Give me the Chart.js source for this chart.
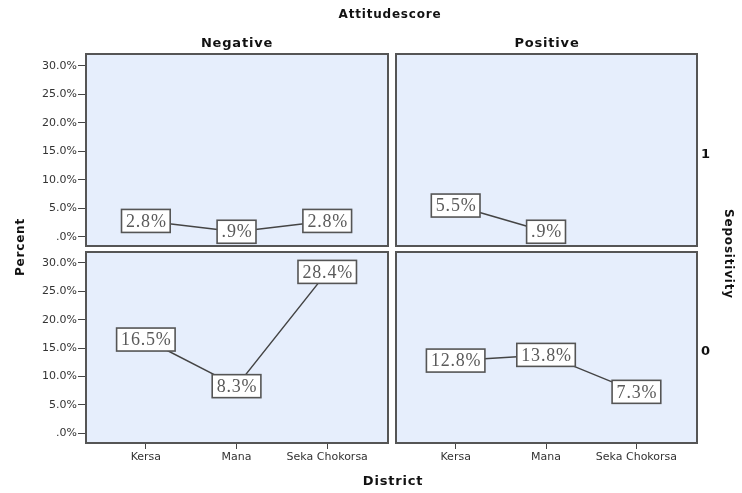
<!DOCTYPE html>
<html>
<head>
<meta charset="utf-8">
<script src="https://cdn.jsdelivr.net/npm/chart.js@4/dist/chart.umd.min.js"></script>
<style>
html,body{margin:0;padding:0;background:#fff;}
#wrap{position:relative;width:742px;height:493px;overflow:hidden;}
canvas{position:absolute;left:0;top:0;}
.t{position:absolute;font-family:"DejaVu Sans",sans-serif;font-weight:bold;font-size:13px;color:#111;white-space:nowrap;letter-spacing:0.8px;transform:translate(-50%,-50%);}
</style>
</head>
<body>
<div id="wrap">
<canvas id="c1" width="742" height="493"></canvas>
<canvas id="c2" width="742" height="493"></canvas>
<canvas id="c3" width="742" height="493"></canvas>
<canvas id="c4" width="742" height="493"></canvas>
<div class="t" style="left:390px;top:14px;font-size:12px;">Attitudescore</div>
<div class="t" style="left:237px;top:42px;">Negative</div>
<div class="t" style="left:547px;top:42px;">Positive</div>
<div class="t" style="left:20px;top:247px;transform:translate(-50%,-50%) rotate(-90deg);font-size:12px;">Percent</div>
<div class="t" style="left:729px;top:254px;transform:translate(-50%,-50%) rotate(90deg);font-size:12px;">Sepositivity</div>
<div class="t" style="left:706px;top:153px;">1</div>
<div class="t" style="left:706px;top:350px;">0</div>
<div class="t" style="left:393px;top:480px;">District</div>
</div>
<script>
// ---- data ----
const districts = ["Kersa", "Mana", "Seka Chokorsa"];
const yTicks = [0, 5, 10, 15, 20, 25, 30];
const negativeSepos1 = [2.8, 0.9, 2.8];
const positiveSepos1 = [5.5, 0.9, null];
const negativeSepos0 = [16.5, 8.3, 28.4];
const positiveSepos0 = [12.8, 13.8, 7.3];

const W = 742, H = 493;
function fmt(v){ let s = v.toFixed(1); if (s.startsWith("0")) s = s.slice(1); return s + "%"; }

const panelPlugin = {
  id: 'panel',
  beforeDraw(chart){
    const a = chart.chartArea, ctx = chart.ctx;
    ctx.save(); ctx.fillStyle = '#e6eefc';
    ctx.fillRect(a.left, a.top, a.right - a.left, a.bottom - a.top);
    ctx.restore();
  },
  afterDatasetsDraw(chart){
    const ctx = chart.ctx, ds = chart.data.datasets[0];
    const xs = chart.scales.x, ys = chart.scales.y;
    ctx.save();
    ctx.font = '18px "Liberation Serif", "Times New Roman", serif';
    try { ctx.letterSpacing = '0.8px'; } catch(e) {}
    ctx.textAlign = 'center'; ctx.textBaseline = 'middle';
    ds.data.forEach(p => {
      if (p.y == null) return;
      const px = xs.getPixelForValue(p.x), py = ys.getPixelForValue(p.y);
      const txt = fmt(p.y);
      const w = ctx.measureText(txt).width + 8, h = 23;
      ctx.fillStyle = '#fff';
      ctx.fillRect(px - w/2, py - h/2, w, h);
      ctx.strokeStyle = '#555'; ctx.lineWidth = 1.6;
      ctx.strokeRect(px - w/2, py - h/2, w, h);
      ctx.fillStyle = '#5a5a5a';
      ctx.fillText(txt, px + 0.5, py + 1);
    });
    const a = chart.chartArea;
    ctx.strokeStyle = '#555'; ctx.lineWidth = 2;
    ctx.strokeRect(a.left, a.top, a.right - a.left, a.bottom - a.top);
    ctx.restore();
  }
};

function makeChart(id, values, panel, showY, showX, yMin, yMax){
  const yW = 60, xH = 30;
  const padding = {
    left: panel.l - (showY ? yW : 0),
    right: W - panel.r,
    top: panel.t,
    bottom: H - panel.b - (showX ? xH : 0)
  };
  const data = values.map((v, i) => ({x: i, y: v}));
  return new Chart(document.getElementById(id), {
    type: 'line',
    data: { datasets: [{ data, borderColor: '#444', borderWidth: 1.5, pointRadius: 0, tension: 0, spanGaps: false }] },
    options: {
      responsive: false, animation: false,
      layout: { padding },
      plugins: { legend: {display: false}, tooltip: {enabled: false} },
      scales: {
        x: {
          type: 'linear', min: -0.66, max: 2.67, display: showX,
          afterBuildTicks: s => { s.ticks = districts.map((d, i) => ({value: i})); },
          afterFit: s => { s.height = showX ? xH : 0; },
          ticks: { callback: v => districts[v], color: '#333', padding: 2, maxRotation: 0, autoSkip: false,
                   font: {family: '"DejaVu Sans", sans-serif', size: 11} },
          grid: { drawOnChartArea: false, drawTicks: true, tickLength: 6, color: '#444' },
          border: { display: false }
        },
        y: {
          type: 'linear', min: yMin, max: yMax, display: showY,
          afterBuildTicks: s => { s.ticks = yTicks.map(v => ({value: v})); },
          afterFit: s => { s.width = showY ? yW : 0; },
          ticks: { callback: v => fmt(v), color: '#333', padding: 1,
                   font: {family: '"DejaVu Sans", sans-serif', size: 11} },
          grid: { drawOnChartArea: false, drawTicks: true, tickLength: 8, color: '#444' },
          border: { display: false }
        }
      }
    },
    plugins: [panelPlugin]
  });
}

makeChart('c1', negativeSepos1, {l: 86, t: 54, r: 388, b: 246}, true, false, -1.6, 32.1);
makeChart('c2', positiveSepos1, {l: 396, t: 54, r: 697, b: 246}, false, false, -1.6, 32.1);
makeChart('c3', negativeSepos0, {l: 86, t: 252, r: 388, b: 443}, true, true, -1.7, 31.9);
makeChart('c4', positiveSepos0, {l: 396, t: 252, r: 697, b: 443}, false, true, -1.7, 31.9);
</script>
</body>
</html>
